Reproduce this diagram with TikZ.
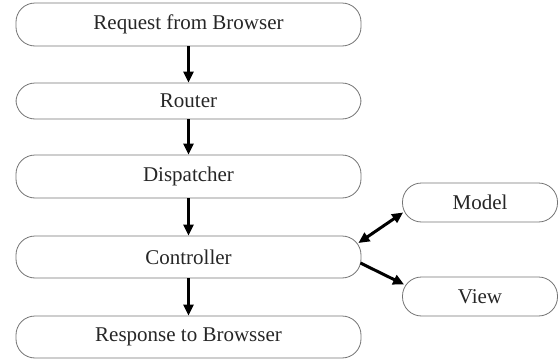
\documentclass[tikz,border=0pt]{standalone}
\usepackage{fontspec}
\setmainfont{Liberation Serif}
\usetikzlibrary{arrows.meta,calc}
\begin{document}
\begin{tikzpicture}[x=1pt,y=-1pt,
  box/.style={draw=black!55, line width=0.8pt, rounded corners=19pt,
    inner sep=0pt, font=\fontsize{21}{24}\selectfont, text=black!85},
  flow/.style={line width=3pt, -{Triangle[length=11pt,width=10pt]}},
  both/.style={line width=3pt, {Triangle[length=11pt,width=10pt]}-{Triangle[length=11pt,width=10pt]}}]
\useasboundingbox (0,0) rectangle (558,359);
% main request pipeline
\node[box, minimum width=345pt, minimum height=43pt] (req)  at (188.5,24.5)  {Request from Browser};
\node[box, minimum width=345pt, minimum height=36pt] (rout) at (188.5,101)   {Router};
\node[box, minimum width=345pt, minimum height=43pt] (disp) at (188.5,176.5) {Dispatcher};
\node[box, minimum width=345pt, minimum height=42pt] (ctrl) at (188.5,257)   {Controller};
\node[box, minimum width=345pt, minimum height=42pt] (resp) at (188.5,337)   {Response to Browsser};
% side components
\node[box, minimum width=155pt, minimum height=39pt] (model) at (480,202.5) {Model};
\node[box, minimum width=155pt, minimum height=39pt] (view)  at (480,296.5) {View};
% connectors
\draw[flow] (req.south)  -- (rout.north);
\draw[flow] (rout.south) -- (disp.north);
\draw[flow] (disp.south) -- (ctrl.north);
\draw[flow] (ctrl.south) -- (resp.north);
\draw[both] ([shift={(-3,-14)}]ctrl.east) -- ([shift={(1,10)}]model.west);
\draw[flow] ([shift={(-1,6)}]ctrl.east) -- ([shift={(2,-12)}]view.west);
\end{tikzpicture}
\end{document}
